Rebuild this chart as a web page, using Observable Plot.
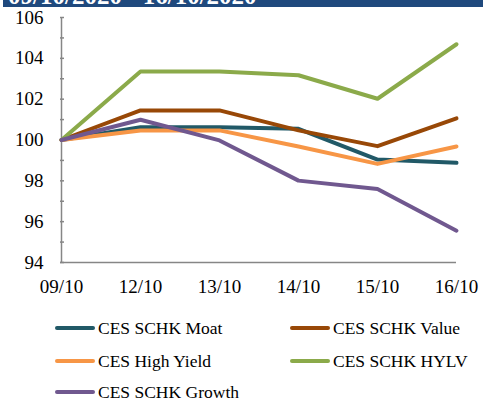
<!DOCTYPE html>
<html>
<head>
<meta charset="utf-8">
<script src="https://cdn.jsdelivr.net/npm/d3@7"></script>
<script src="https://cdn.jsdelivr.net/npm/@observablehq/plot@0.6"></script>
<style>
  html, body { margin: 0; padding: 0; background: #fff; }
  body { width: 483px; height: 400px; overflow: hidden; font-family: "Liberation Serif", "Times New Roman", serif; }
  #banner { position: relative; margin-left: 3px; height: 7px; background: #1F497D; overflow: hidden; }
  #banner span { position: absolute; left: 5px; bottom: -1px; line-height: 1; font-size: 25px; font-weight: bold; color: #fff; white-space: nowrap; }
  #chart svg text { font-family: "Liberation Serif", "Times New Roman", serif; }
  #legend { position: relative; height: 100px; font-size: 17.5px; color: #000; }
  .item { position: absolute; display: flex; align-items: center; white-space: nowrap; }
  .sw { width: 40px; height: 4px; border-radius: 2px; margin-right: 3px; }
</style>
</head>
<body>
<div id="banner"><span>09/10/2020 - 16/10/2020</span></div>
<div id="chart"></div>
<div id="legend"></div>
<script>
const dates = ["09/10", "12/10", "13/10", "14/10", "15/10", "16/10"];
const seriesNames = ["CES SCHK Moat", "CES SCHK Value", "CES High Yield", "CES SCHK HYLV", "CES SCHK Growth"];
const colors = ["#215967", "#984807", "#F79646", "#8BAA4A", "#70588F"];
const moat      = [100, 100.63, 100.63, 100.55, 99.04, 98.88];
const value     = [100, 101.45, 101.45, 100.47, 99.70, 101.06];
const highYield = [100, 100.47, 100.47, 99.68, 98.83, 99.68];
const hylv      = [100, 103.36, 103.35, 103.17, 102.02, 104.69];
const growth    = [100, 100.99, 99.98, 98.01, 97.60, 95.56];
const yTicks = [94, 96, 98, 100, 102, 104, 106];
const yMinorTicks = d3.range(94, 107, 1);

const allSeries = [moat, value, highYield, hylv, growth];
const rows = [];
allSeries.forEach((vals, i) => vals.forEach((v, j) => rows.push({series: seriesNames[i], date: dates[j], value: v})));

const W = 483, H = 293, mL = 60, mR = 27, mT = 10, mB = 38;
const serif = "'Liberation Serif', 'Times New Roman', serif";

const chart = Plot.plot({
  width: W,
  height: H,
  marginLeft: mL,
  marginRight: mR,
  marginTop: mT,
  marginBottom: mB,
  style: {fontFamily: serif, fontSize: "19px", color: "#000", background: "#fff"},
  x: {type: "point", domain: dates, padding: 0, label: null},
  y: {domain: [94, 106], label: null},
  color: {domain: seriesNames, range: colors},
  marks: [
    Plot.axisY({ticks: yTicks, tickSize: 0, tickPadding: 17, fontSize: 19, fontFamily: serif, fill: "#000", label: null}),
    Plot.axisX({tickSize: 0, tickPadding: 17, fontSize: 19, fontFamily: serif, fill: "#000", label: null}),
    Plot.tickY(yMinorTicks, {y: d => d, stroke: "#868686", strokeWidth: 1.5, insetRight: (W - mL - mR) - 4}),
    Plot.ruleX([dates[0]], {y1: 94, y2: 106, stroke: "#868686", strokeWidth: 1.5}),
    Plot.ruleY([94], {stroke: "#868686", strokeWidth: 1.5}),
    Plot.line(rows, {x: "date", y: "value", stroke: "series", z: "series", strokeWidth: 4, strokeLinejoin: "round"})
  ]
});
document.getElementById("chart").appendChild(chart);

const legend = document.getElementById("legend");
const legendPos = [[55, 28], [290, 28], [55, 61], [290, 61], [55, 92]];
seriesNames.forEach((name, i) => {
  const it = document.createElement("div");
  it.className = "item";
  it.style.left = legendPos[i][0] + "px";
  it.style.top = (legendPos[i][1] - 11) + "px";
  it.style.height = "22px";
  const sw = document.createElement("span");
  sw.className = "sw";
  sw.style.background = colors[i];
  const tx = document.createElement("span");
  tx.textContent = name;
  it.appendChild(sw);
  it.appendChild(tx);
  legend.appendChild(it);
});
</script>
</body>
</html>
